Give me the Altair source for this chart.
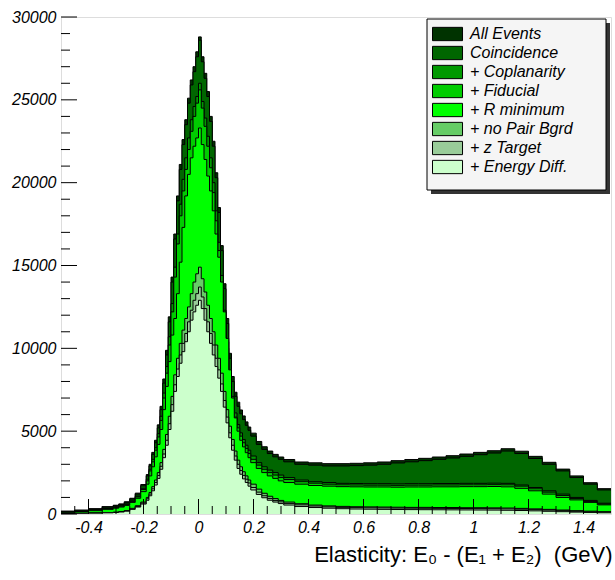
import altair as alt
import pandas as pd

series_names = ["All Events", "Coincidence", "+ Coplanarity", "+ Fiducial",
                "+ R minimum", "+ no Pair Bgrd", "+ z Target", "+ Energy Diff."]
series_colors = ["#003300", "#006600", "#009900", "#00cc00",
                 "#00ff00", "#66cc66", "#99cc99", "#ccffcc"]

# histogram bin edges (GeV): coarse tails, fine bins across the peak
bin_edges = [-0.5, -0.45, -0.4, -0.35,
             -0.31, -0.29, -0.27, -0.25, -0.23, -0.21,
             -0.19, -0.18, -0.17, -0.16, -0.15, -0.14, -0.13, -0.12, -0.11, -0.1,
             -0.09, -0.08, -0.07, -0.06, -0.05, -0.04, -0.03, -0.02, -0.01, 0.0,
             0.01, 0.02, 0.03, 0.04, 0.05, 0.06, 0.07, 0.08, 0.09, 0.1,
             0.11, 0.12, 0.13, 0.14, 0.15, 0.16, 0.17, 0.18, 0.19,
             0.21, 0.23, 0.25, 0.27, 0.29,
             0.31, 0.35, 0.4, 0.45, 0.5, 0.55, 0.6, 0.65, 0.7, 0.75, 0.8, 0.85,
             0.9, 0.95, 1.0, 1.05, 1.1, 1.15, 1.2, 1.25, 1.3, 1.35, 1.4, 1.45, 1.5]

all_events = [170, 235, 320, 445,
              530, 610, 740, 950, 1260, 1780,
              2380, 3000, 3720, 4450, 5380, 6500, 8150, 9880, 11900, 14300,
              16900, 19200, 21100, 22600, 23800, 25100, 26200, 27000, 27900, 28800,
              27600, 26600, 25500, 24000, 22500, 20600, 18500, 16200, 13900, 11800,
              9700, 8300, 7350, 6750, 6280, 5920, 5560, 5250,
              4880, 4380, 4060, 3800, 3600, 3440,
              3290, 3140, 3090, 3040, 3040, 3060, 3090, 3140, 3220, 3290, 3360, 3440, 3520, 3620, 3720, 3820,
              3940, 3790, 3480, 3120, 2710, 2300, 1890, 1530]
coincidence = [160, 220, 300, 420,
               500, 580, 700, 900, 1200, 1700,
               2300, 2900, 3600, 4300, 5200, 6300, 7900, 9600, 11600, 14000,
               16600, 18900, 20800, 22300, 23500, 24800, 25900, 26700, 27600, 28600,
               27300, 26300, 25200, 23700, 22200, 20300, 18200, 15900, 13600, 11500,
               9400, 8000, 7100, 6500, 6050, 5700, 5350, 5050,
               4700, 4200, 3900, 3650, 3450, 3300,
               3150, 3000, 2950, 2900, 2900, 2920, 2950, 3000, 3080, 3150, 3220, 3300, 3380, 3480, 3580, 3680,
               3800, 3650, 3350, 3000, 2600, 2200, 1800, 1450]
coplanarity = [130, 190, 260, 360,
               430, 500, 610, 800, 1080, 1550,
               2100, 2700, 3300, 4000, 4850, 5900, 7300, 8900, 10700, 12700,
               14900, 16900, 18700, 20200, 21500, 22700, 23800, 24600, 25200, 26000,
               24900, 23900, 22800, 21500, 20000, 18300, 16400, 14400, 12300, 10400,
               8500, 7100, 6100, 5400, 4900, 4500, 4150, 3850,
               3500, 3100, 2850, 2650, 2500, 2350,
               2200, 2050, 1950, 1900, 1850, 1840, 1830, 1830, 1820, 1830, 1830, 1840, 1840, 1850, 1850, 1860,
               1850, 1750, 1600, 1400, 1200, 1000, 820, 650]
fiducial = [120, 175, 240, 330,
            400, 470, 580, 760, 1030, 1480,
            2000, 2600, 3150, 3850, 4650, 5650, 7000, 8500, 10200, 12200,
            14300, 16300, 18000, 19500, 20800, 22000, 23100, 24000, 24800, 25600,
            24500, 23400, 22200, 20900, 19400, 17700, 15900, 13900, 11900, 10000,
            8200, 6850, 5850, 5200, 4700, 4300, 3950, 3650,
            3300, 2950, 2700, 2500, 2350, 2200,
            2080, 1950, 1860, 1800, 1760, 1750, 1740, 1740, 1730, 1740, 1740, 1750, 1750, 1760, 1760, 1770,
            1760, 1680, 1520, 1320, 1120, 930, 760, 600]
r_minimum = [100, 150, 200, 280,
             350, 420, 520, 700, 950, 1350,
             1800, 2300, 2850, 3450, 4200, 5100, 6300, 7700, 9200, 10800,
             11800, 13300, 15200, 17300, 19200, 20500, 21500, 22200, 22700, 23300,
             22300, 21400, 20400, 19500, 18300, 16900, 15500, 14000, 12200, 10600,
             8700, 7000, 5800, 5000, 4450, 4050, 3700, 3400,
             3100, 2750, 2500, 2300, 2150, 2000,
             1900, 1800, 1720, 1680, 1650, 1640, 1630, 1630, 1620, 1630, 1630, 1640, 1640, 1650, 1650, 1660,
             1640, 1550, 1400, 1200, 1000, 850, 700, 550]
no_pair_bgrd = [40, 50, 65, 90,
                110, 150, 210, 340, 500, 720,
                1000, 1300, 1650, 2050, 2500, 3100, 3900, 4800, 5900, 7100,
                8400, 9400, 10300, 11100, 11800, 12500, 13300, 14000, 14500, 14900,
                14200, 13400, 12600, 11800, 11000, 10200, 9400, 8500, 7400, 6300,
                5300, 4500, 3800, 3250, 2850, 2550, 2300, 2050,
                1800, 1500, 1250, 1070, 930, 820,
                720, 620, 540, 490, 460, 440, 430, 420, 410, 400, 400, 390, 390, 380, 380, 370,
                360, 340, 310, 280, 240, 200, 170, 140]
z_target = [35, 45, 58, 80,
            100, 135, 190, 310, 460, 660,
            920, 1200, 1520, 1900, 2320, 2880, 3620, 4450, 5450, 6600,
            7800, 8750, 9600, 10300, 10900, 11600, 12300, 12900, 13300, 13700,
            13100, 12400, 11600, 10900, 10200, 9400, 8700, 7850, 6850, 5850,
            4900, 4150, 3500, 3000, 2620, 2330, 2100, 1870,
            1600, 1320, 1100, 940, 820, 730,
            640, 550, 480, 430, 400, 385, 375, 365, 355, 350, 345, 340, 335, 330, 325, 320,
            310, 290, 265, 235, 200, 165, 135, 110]
energy_diff = [30, 40, 50, 70,
               90, 120, 170, 280, 420, 600,
               830, 1100, 1400, 1750, 2150, 2700, 3400, 4150, 5100, 6200,
               7400, 8300, 9100, 9800, 10400, 11000, 11700, 12200, 12600, 12900,
               12400, 11700, 11000, 10300, 9600, 8900, 8200, 7400, 6450, 5500,
               4600, 3850, 3250, 2750, 2400, 2120, 1900, 1680,
               1450, 1180, 980, 830, 720, 630,
               540, 450, 390, 350, 320, 300, 290, 280, 270, 265, 260, 255, 250, 245, 240, 235,
               225, 210, 190, 165, 140, 115, 95, 75]

series_values = [all_events, coincidence, coplanarity, fiducial,
                 r_minimum, no_pair_bgrd, z_target, energy_diff]

x_major_ticks = [-0.4, -0.2, 0, 0.2, 0.4, 0.6, 0.8, 1, 1.2, 1.4]
x_minor_ticks = [-0.45, -0.35, -0.3, -0.25, -0.15, -0.1, -0.05, 0.05, 0.1, 0.15, 0.25, 0.3,
                 0.35, 0.45, 0.5, 0.55, 0.65, 0.7, 0.75, 0.85, 0.9, 0.95, 1.05, 1.1, 1.15,
                 1.25, 1.3, 1.35, 1.45]
y_major_ticks = [0, 5000, 10000, 15000, 20000, 25000, 30000]
y_minor_ticks = [1000, 2000, 3000, 4000, 6000, 7000, 8000, 9000, 11000, 12000, 13000, 14000,
                 16000, 17000, 18000, 19000, 21000, 22000, 23000, 24000, 26000, 27000, 28000, 29000]

rows = []
for name, vals in zip(series_names, series_values):
    for i, v in enumerate(vals):
        rows.append({"series": name, "x": bin_edges[i], "y": v})
    rows.append({"series": name, "x": bin_edges[-1], "y": vals[-1]})
df = pd.DataFrame(rows)

W, H = 550, 497
xscale = alt.Scale(domain=[-0.5, 1.5], nice=False, zero=False)
yscale = alt.Scale(domain=[0, 30000], nice=False)
FONT = "Liberation Sans"

x_axis = alt.Axis(values=x_major_ticks, labelExpr="'' + datum.value", ticks=False, tickSize=0,
                  domain=False, grid=False, labelFont=FONT, labelFontStyle="italic",
                  labelFontSize=16, labelColor="black", labelPadding=5, labelFlush=False,
                  title="Elasticity: E\u2080 - (E\u2081 + E\u2082) \u00a0(GeV)",
                  titleFont=FONT, titleFontSize=22, titleFontWeight="normal", titleColor="black",
                  titleX=551, titleY=47, titleAlign="right", titleBaseline="alphabetic",
                  titleAnchor="end")
y_axis = alt.Axis(values=y_major_ticks, labelExpr="'' + datum.value", ticks=False, tickSize=0,
                  domain=False, grid=False, labelFont=FONT, labelFontStyle="italic",
                  labelFontSize=16, labelColor="black", labelPadding=5, title=None)

color_scale = alt.Scale(domain=series_names, range=series_colors)
legend = alt.Legend(title=None, orient="none", legendX=366, legendY=2,
                    symbolType="M-1,-0.7H2.16V0.7H-1Z", symbolSize=361,
                    symbolStrokeColor="black", symbolStrokeWidth=1, symbolOpacity=1,
                    labelFont=FONT, labelFontStyle="italic", labelFontSize=16,
                    labelColor="black", labelOffset=18, rowPadding=0, padding=5,
                    labelLimit=300)

base = alt.Chart(df)
layers = []
for k, name in enumerate(series_names):
    area = base.transform_filter(alt.datum.series == name).mark_area(
        interpolate="step-after", opacity=1, clip=True).encode(
        x=alt.X("x:Q", scale=xscale, axis=x_axis),
        y=alt.Y("y:Q", scale=yscale, stack=None, axis=y_axis),
        color=alt.Color("series:N", scale=color_scale, legend=legend),
    )
    line = base.transform_filter(alt.datum.series == name).mark_line(
        interpolate="step-after", color="black", strokeWidth=1, clip=True).encode(
        x=alt.X("x:Q", scale=xscale, axis=x_axis),
        y=alt.Y("y:Q", scale=yscale, axis=y_axis),
    )
    layers += [area, line]

def tick_df(vals):
    return pd.DataFrame({"v": vals})

xmaj = alt.Chart(tick_df(x_major_ticks)).mark_rule(color="black", strokeWidth=1).encode(
    x=alt.X("v:Q", scale=xscale, axis=x_axis), y=alt.value(H), y2=alt.value(H - 15))
xmin = alt.Chart(tick_df(x_minor_ticks)).mark_rule(color="black", strokeWidth=1).encode(
    x=alt.X("v:Q", scale=xscale, axis=x_axis), y=alt.value(H), y2=alt.value(H - 8))
ymaj = alt.Chart(tick_df(y_major_ticks)).mark_rule(color="black", strokeWidth=1).encode(
    y=alt.Y("v:Q", scale=yscale, axis=y_axis), x=alt.value(0), x2=alt.value(16))
ymin = alt.Chart(tick_df(y_minor_ticks)).mark_rule(color="black", strokeWidth=1).encode(
    y=alt.Y("v:Q", scale=yscale, axis=y_axis), x=alt.value(0), x2=alt.value(9))

one = pd.DataFrame({"d": [0]})
shadow = alt.Chart(one).mark_rect(color="#333333").encode(
    x=alt.value(370), x2=alt.value(549), y=alt.value(6), y2=alt.value(177))
box = alt.Chart(one).mark_rect(fill="#f5f5f5", stroke="black", strokeWidth=1).encode(
    x=alt.value(366), x2=alt.value(545), y=alt.value(2), y2=alt.value(173))

chart = alt.layer(*layers, xmaj, xmin, ymaj, ymin, shadow, box).properties(
    width=W, height=H,
    padding={"left": 61, "top": 17, "right": 4, "bottom": 66},
    autosize=alt.AutoSizeParams(type="none"),
).configure_view(stroke="black", strokeWidth=1).configure(background="white")

chart.save("out.html", embed_options={"renderer": "svg", "actions": False})
